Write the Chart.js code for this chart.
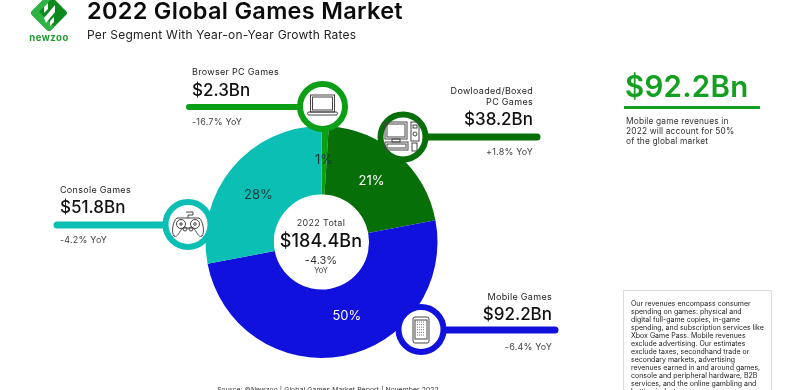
<!DOCTYPE html>
<html><head><meta charset="utf-8">
<style>
html,body{margin:0;padding:0;background:#fff;overflow:hidden;width:800px;height:390px}
#wrap{position:relative;width:800px;height:390px;overflow:hidden;font-family:Inter,"Open Sans",sans-serif;color:#111}
canvas{position:absolute;left:0;top:0}
.t{position:absolute;white-space:nowrap;transform:translateY(-50%);line-height:1}
.r{transform:translate(-100%,-50%);text-align:right}
.c{transform:translate(-50%,-50%);text-align:center}
.n{font-size:9px;letter-spacing:.3px;color:#222}
.v{font-size:17px;font-weight:500;letter-spacing:0;color:#111}
.y{font-size:9px;letter-spacing:.2px;color:#444}
</style></head><body><div id="wrap"><canvas id="c" width="800" height="390"></canvas></div>
<script src="https://cdn.jsdelivr.net/npm/chart.js@4"></script>
<script>
const categories=["Browser PC Games","Dowloaded/Boxed PC Games","Mobile Games","Console Games"];
const shares=[1,21,50,28];
const revenues=["$2.3Bn","$38.2Bn","$92.2Bn","$51.8Bn"];
const yoy=["-16.7% YoY","+1.8% YoY","-6.4% YoY","-4.2% YoY"];
const colors=["#0a9f14","#066f08","#1111dd","#0bbfb4"];
const labelColors=["#123a3a","#ffffff","#ffffff","#123a3a"];
const labelNudge=[[0,0],[-4,0],[10,-6],[0,5]];
const totalLabel="2022 Total", totalValue="$184.4Bn", totalYoy="-4.3%", yoyWord="YoY";
const noteLines=["Our revenues encompass consumer","spending on games: physical and","digital full-game copies, in-game","spending, and subscription services like","Xbox Game Pass. Mobile revenues","exclude advertising. Our estimates","exclude taxes, secondhand trade or","secondary markets, advertising","revenues earned in and around games,","console and peripheral hardware, B2B","services, and the online gambling and","betting industry."];

const wrap=document.getElementById('wrap');
function T(s,x,y,cls,st){const d=document.createElement('div');d.className='t '+(cls||'');d.textContent=s;d.style.left=x+'px';d.style.top=y+'px';if(st)Object.assign(d.style,st);wrap.appendChild(d);return d;}

T("2022 Global Games Market",87,11,"",{fontSize:'23.5px',fontWeight:600,letterSpacing:'.3px',color:'#0c0c0c'});
T("Per Segment With Year-on-Year Growth Rates",87,35,"",{fontSize:'12px',letterSpacing:'.22px',color:'#222'});
T("newzoo",49,38,"c",{fontSize:'9.5px',fontWeight:700,letterSpacing:'.5px',color:'#1b9a2a'});

T(categories[0],192,71,"n");T(revenues[0],192,90,"v");T(yoy[0],192,121,"y");
T("Dowloaded/Boxed",533,90,"n r");T("PC Games",533,101,"n r");T(revenues[1],533,119,"v r");T(yoy[1],533,151,"y r");
T(categories[3],60,189,"n");T(revenues[3],60,207,"v");T(yoy[3],60,239,"y");
T(categories[2],552,296,"n r");T(revenues[2],552,314,"v r");T(yoy[2],552,346,"y r");

T(totalLabel,321,222,"c",{fontSize:'9px',letterSpacing:'.3px',color:'#333'});
T(totalValue,321,241,"c",{fontSize:'18px',fontWeight:500,letterSpacing:'.1px'});
T(totalYoy,321,260,"c",{fontSize:'11px',color:'#333'});
T(yoyWord,321,271,"c",{fontSize:'7.5px',color:'#333'});

T(revenues[2],625,87,"",{fontSize:'29.5px',fontWeight:600,letterSpacing:'.25px',color:'#13a020'});
["Mobile game revenues in","2022 will account for 50%","of the global market"].forEach((s,i)=>T(s,626,121+i*10,"",{fontSize:'8.4px',letterSpacing:'.15px',color:'#333'}));

const box=document.createElement('div');
Object.assign(box.style,{position:'absolute',left:'623px',top:'290px',width:'149px',height:'120px',border:'1px solid #ddd',boxSizing:'border-box'});
wrap.appendChild(box);
noteLines.forEach((s,i)=>T(s,631,302.5+i*8,"",{fontSize:'7px',color:'#222'}));
T("Source: ©Newzoo | Global Games Market Report | November 2022",328,390,"c",{fontSize:'6.8px',letterSpacing:'.1px',color:'#333'});

const ink='#444';
function ring(g,x,y,r,w,col){g.beginPath();g.arc(x,y,r-w/2,0,Math.PI*2);g.fillStyle='#fff';g.fill();g.lineWidth=w;g.strokeStyle=col;g.stroke();}
function bar(g,x0,x1,y,w,col){g.beginPath();g.moveTo(x0,y);g.lineTo(x1,y);g.lineWidth=w;g.lineCap='round';g.strokeStyle=col;g.stroke();g.lineCap='butt';}
function rr(g,x,y,w,h,r){g.beginPath();g.roundRect(x,y,w,h,r);g.stroke();}
function laptop(g,x,y){g.strokeRect(x-12,y-12,24,17);g.strokeRect(x-10,y-10,20,13);rr(g,x-15,y+5,30,3,1.5);}
function computer(g,x,y){
  g.strokeRect(x-18,y-15,22,17);g.strokeRect(x-16,y-13,18,13);g.strokeRect(x-11,y+2,8,3);
  g.strokeRect(x-18,y+5,23,8);g.strokeRect(x-16,y+7,19,4);
  g.strokeRect(x+8,y-15,8,19);g.strokeRect(x+10,y-12,4,3);g.beginPath();g.arc(x+12,y-3,2,0,7);g.stroke();
  g.strokeRect(x+9,y+6,5,8);
}
function pad(g,x,y){
  g.beginPath();g.moveTo(x-11,y-7);g.lineTo(x+11,y-7);g.bezierCurveTo(x+15,y-5,x+17,y+8,x+14,y+11);g.bezierCurveTo(x+10,y+13,x+9,y+6,x+5,y+3);
  g.lineTo(x-5,y+3);g.bezierCurveTo(x-9,y+6,x-10,y+13,x-14,y+11);g.bezierCurveTo(x-17,y+8,x-15,y-5,x-11,y-7);g.stroke();
  g.beginPath();g.arc(x-7,y-1,4.5,0,7);g.stroke();g.beginPath();g.arc(x+7,y-1,4.5,0,7);g.stroke();
  g.beginPath();g.moveTo(x-9,y-1);g.lineTo(x-5,y-1);g.moveTo(x-7,y-3);g.lineTo(x-7,y+1);g.stroke();
  g.beginPath();g.arc(x+7,y-1,1.3,0,7);g.stroke();
  g.beginPath();g.arc(x-3,y+4,2,0,7);g.stroke();g.beginPath();g.arc(x+3,y+4,2,0,7);g.stroke();
  g.beginPath();g.moveTo(x,y-7);g.lineTo(x,y-10);g.lineTo(x+5,y-10);g.lineTo(x+5,y-13);g.lineTo(x-2,y-13);g.stroke();
}
function phone(g,x,y){
  rr(g,x-8,y-13,16,26,2);g.strokeRect(x-6,y-10,12,19);
  g.save();g.setLineDash([1,1]);g.strokeStyle='#777';for(let i=0;i<6;i++){g.beginPath();g.moveTo(x-4,y-8+i*2.6);g.lineTo(x+4,y-8+i*2.6);g.stroke();}g.restore();
}
function logo(g){
  const cx=49,cy=13;
  g.save();g.translate(cx,cy);g.rotate(Math.PI/4);
  g.beginPath();g.roundRect(-13.5,-13.5,27,27,3);g.fillStyle='#0c8a1e';g.fill();g.clip();
  g.fillStyle='#2fb343';g.fillRect(-14,6,28,8);g.fillRect(-14,-14,6,28);
  g.rotate(-Math.PI/4);
  g.fillStyle='#fff';g.beginPath();g.moveTo(-5,5);g.lineTo(6,-8);g.lineTo(6,-1);g.lineTo(-3,10);g.closePath();g.fill();
  g.beginPath();g.moveTo(-5,-6);g.lineTo(-1,-10);g.lineTo(-1,-4);g.lineTo(-5,0);g.closePath();g.fill();
  g.beginPath();g.moveTo(1,8);g.lineTo(5,4);g.lineTo(5,9);g.lineTo(1,13);g.closePath();g.fill();
  g.restore();
}
const overlay={id:'overlay',afterDraw(ch){
  const g=ch.ctx;g.save();
  const arcs=ch.getDatasetMeta(0).data;
  g.font='400 13px Inter';g.textAlign='center';g.textBaseline='middle';
  arcs.forEach((a,i)=>{const p=a.getCenterPoint();g.fillStyle=labelColors[i];g.fillText(shares[i]+'%',p.x+labelNudge[i][0],p.y+labelNudge[i][1]);});
  bar(g,189,300,107,6,'#0a9f14');ring(g,322.5,106.5,25.5,6,'#0a9f14');
  bar(g,425,537,137,7,'#066f08');ring(g,403,137,25.5,6,'#066f08');
  bar(g,57,167,225,7,'#0bbfb4');ring(g,188,224.5,25.5,6,'#0bbfb4');
  bar(g,443,555,330,7,'#1111dd');ring(g,421,329.5,25.5,6,'#1111dd');
  g.strokeStyle=ink;g.lineWidth=1;
  laptop(g,322.5,107);computer(g,403,137);pad(g,188,225);phone(g,421,330);
  g.fillStyle='#13a020';g.fillRect(624,106,136,3);
  logo(g);
  g.restore();
}};
new Chart(document.getElementById('c'),{
  type:'doughnut',
  data:{labels:categories,datasets:[{data:shares,backgroundColor:colors,borderWidth:0}]},
  options:{responsive:false,animation:false,cutout:'41%',rotation:0,
    layout:{padding:{left:205.5,right:362.5,top:126,bottom:32}},
    plugins:{legend:{display:false},tooltip:{enabled:false}},events:[]},
  plugins:[overlay]
});
</script></body></html>
